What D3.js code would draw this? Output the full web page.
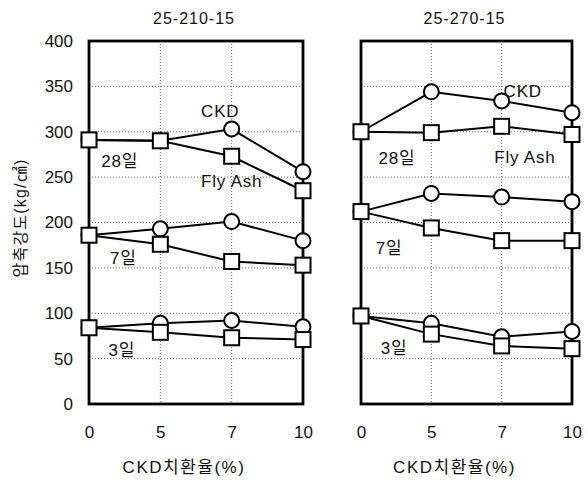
<!DOCTYPE html>
<html>
<head>
<meta charset="utf-8">
<script src="https://cdn.jsdelivr.net/npm/d3@7"></script>
<style>
  body { margin: 0; background: #fff; }
  text { font-family: "Liberation Sans", Arial, "Noto Sans CJK KR", sans-serif; fill: #111; }
</style>
</head>
<body>
<script>
let width = 588
let height = 481

// categories and ticks
const xCats = ["0", "5", "7", "10"]
const yTicks = [0, 50, 100, 150, 200, 250, 300, 350, 400]
const titles = ["25-210-15", "25-270-15"]

// left panel (25-210-15)
const leftCkd28 = [291, 290, 303, 256]
const leftFa28  = [291, 290, 273, 235]
const leftCkd7  = [186, 193, 201, 180]
const leftFa7   = [186, 176, 157, 153]
const leftCkd3  = [84, 89, 92, 85]
const leftFa3   = [84, 79, 73, 71]

// right panel (25-270-15)
const rightCkd28 = [300, 344, 334, 321]
const rightFa28  = [300, 299, 306, 297]
const rightCkd7  = [212, 232, 228, 223]
const rightFa7   = [212, 194, 180, 180]
const rightCkd3  = [97, 89, 74, 80]
const rightFa3   = [97, 77, 64, 61]

// annotation labels: [text, category position (fractional index), value]
const leftNotes = [["CKD", 1.84, 321], ["28일", 0.43, 266], ["Fly Ash", 2.0, 244], ["7일", 0.48, 159], ["3일", 0.46, 58]]
const rightNotes = [["CKD", 2.30, 343], ["28일", 0.51, 269], ["Fly Ash", 2.33, 271], ["7일", 0.40, 170], ["3일", 0.47, 60]]

const svg = d3.select("body").append("svg")
    .attr("width", width)
    .attr("height", height)

const y = d3.scaleLinear().domain([0, 400]).range([404, 41])

let drawPanel = (x0, x1, title, ckd, fa, notes, showY) => {
    const x = d3.scalePoint().domain(xCats).range([x0, x1])
    const step = x.step()
    const g = svg.append("g")

    // grid
    g.selectAll(".hgrid").data(yTicks.filter(d => d > 0 && d < 400)).enter()
        .append("line")
        .attr("x1", x0).attr("x2", x1)
        .attr("y1", d => y(d)).attr("y2", d => y(d))
        .attr("stroke", "#666").attr("stroke-width", 1)
        .attr("stroke-dasharray", "1,2")
    g.selectAll(".vgrid").data(xCats.slice(1, 3)).enter()
        .append("line")
        .attr("x1", d => x(d)).attr("x2", d => x(d))
        .attr("y1", y(400)).attr("y2", y(0))
        .attr("stroke", "#666").attr("stroke-width", 1)
        .attr("stroke-dasharray", "1,2")

    // frame
    g.append("rect")
        .attr("x", x0).attr("y", y(400))
        .attr("width", x1 - x0).attr("height", y(0) - y(400))
        .attr("fill", "none").attr("stroke", "#000").attr("stroke-width", 2.8)

    // axes
    const xAxis = g.append("g").attr("transform", "translate(0," + 432 + ")")
        .call(d3.axisBottom(x).tickSize(0).tickPadding(0))
    xAxis.select(".domain").remove()
    xAxis.selectAll("text").attr("font-size", 17).attr("dy", "0.35em")

    if (showY) {
        const yAxis = g.append("g").attr("transform", "translate(" + (x0 - 16) + ",0)")
            .call(d3.axisLeft(y).tickValues(yTicks).tickSize(0).tickPadding(0))
        yAxis.select(".domain").remove()
        yAxis.selectAll("text").attr("font-size", 17)
    }

    // title
    g.append("text")
        .attr("x", (x0 + x1) / 2 - 2).attr("y", 20)
        .attr("text-anchor", "middle").attr("dominant-baseline", "middle")
        .attr("font-size", 16).attr("letter-spacing", 1)
        .text(title)

    // x label
    g.append("text")
        .attr("x", (x0 + x1) / 2 - 12).attr("y", 469)
        .attr("text-anchor", "middle").attr("dominant-baseline", "middle")
        .attr("font-size", 17).attr("letter-spacing", 1.5)
        .text("CKD치환율(%)")

    const line = d3.line().x((d, i) => x(xCats[i])).y(d => y(d))
    const all = ckd.concat(fa)

    g.selectAll(".ln").data(all).enter()
        .append("path")
        .attr("d", d => line(d))
        .attr("fill", "none").attr("stroke", "#000").attr("stroke-width", 2)

    ckd.forEach(s => {
        g.selectAll(null).data(s).enter()
            .append("circle")
            .attr("cx", (d, i) => x(xCats[i]))
            .attr("cy", d => y(d))
            .attr("r", 7.5)
            .attr("fill", "#fff").attr("stroke", "#000").attr("stroke-width", 2)
    })
    fa.forEach(s => {
        g.selectAll(null).data(s).enter()
            .append("rect")
            .attr("x", (d, i) => x(xCats[i]) - 7.5)
            .attr("y", d => y(d) - 7.5)
            .attr("width", 15).attr("height", 15)
            .attr("fill", "#fff").attr("stroke", "#000").attr("stroke-width", 2)
    })

    g.selectAll(".note").data(notes).enter()
        .append("text")
        .attr("x", d => x0 + d[1] * step)
        .attr("y", d => y(d[2]))
        .attr("text-anchor", "middle").attr("dominant-baseline", "middle")
        .attr("font-size", 17).attr("letter-spacing", 0.8)
        .text(d => d[0])
}

drawPanel(89, 303, titles[0], [leftCkd28, leftCkd7, leftCkd3], [leftFa28, leftFa7, leftFa3], leftNotes, true)
drawPanel(361, 572, titles[1], [rightCkd28, rightCkd7, rightCkd3], [rightFa28, rightFa7, rightFa3], rightNotes, false)

// y label
svg.append("text")
    .attr("transform", "translate(22,218) rotate(-90)")
    .attr("text-anchor", "middle").attr("dominant-baseline", "middle")
    .attr("font-size", 16).attr("letter-spacing", 1.2)
    .text("압축강도(kg/㎠)")
</script>
</body>
</html>
